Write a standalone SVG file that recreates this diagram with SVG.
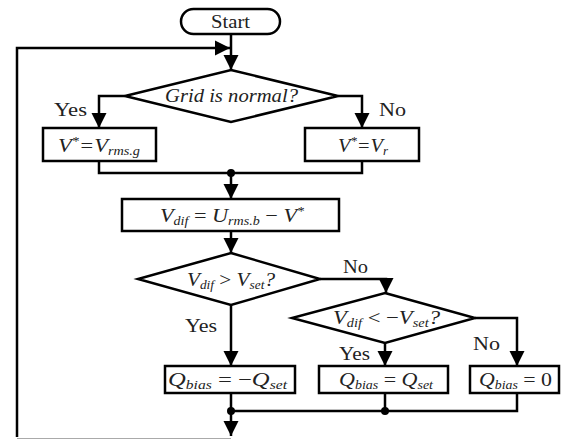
<svg xmlns="http://www.w3.org/2000/svg" width="568" height="439" viewBox="0 0 568 439">
<defs>
<marker id="arr" markerUnits="userSpaceOnUse" markerWidth="16" markerHeight="16" viewBox="0 0 16 16" refX="15" refY="8" orient="auto">
<path d="M0,0.5 L15,8 L0,15.5 z" fill="#000"/>
</marker>
<style>
.s{fill:#fff;stroke:#000;stroke-width:2.5}
.l{fill:none;stroke:#000;stroke-width:2.5}
text{font-family:'Liberation Serif','Times New Roman',serif;fill:#222}
.t{font-size:19px}
.i{font-style:italic}
.sub{font-size:12px;font-style:italic}
.lab{font-size:18px}
</style>
</defs>
<rect width="568" height="439" fill="#fff"/>
<g id="connectors">
<path class="l" d="M231,34 V70" marker-end="url(#arr)"/>
<path class="l" d="M17,437 V48 H230" marker-end="url(#arr)"/>
<path class="l" d="M125,96 H99 V128" marker-end="url(#arr)"/>
<path class="l" d="M338,96 H362 V128" marker-end="url(#arr)"/>
<path class="l" d="M99,161 V173 H362 V161"/>
<path class="l" d="M231,173 V199" marker-end="url(#arr)"/>
<path class="l" d="M231,231 V253" marker-end="url(#arr)"/>
<path class="l" d="M320,279 H386 V293" marker-end="url(#arr)"/>
<path class="l" d="M231,305 V366" marker-end="url(#arr)"/>
<path class="l" d="M385,343 V366" marker-end="url(#arr)"/>
<path class="l" d="M475,318 H517 V366" marker-end="url(#arr)"/>
<path class="l" d="M231,393 V411 H517 V393"/>
<path class="l" d="M385,393 V411"/>
<path class="l" d="M231,411 V436" marker-end="url(#arr)"/>
<line x1="17" y1="438.5" x2="231" y2="438.5" stroke="#aaa" stroke-width="1"/>
<circle cx="231" cy="173" r="4"/>
<circle cx="231" cy="411" r="4"/>
<circle cx="385" cy="411" r="4"/>
<text class="lab" x="54" y="116" textLength="33" lengthAdjust="spacingAndGlyphs">Yes</text>
<text class="lab" x="379" y="116" textLength="27" lengthAdjust="spacingAndGlyphs">No</text>
<text class="lab" x="343" y="273" textLength="25" lengthAdjust="spacingAndGlyphs">No</text>
<text class="lab" x="185" y="332" textLength="32" lengthAdjust="spacingAndGlyphs">Yes</text>
<text class="lab" x="339" y="360" textLength="31" lengthAdjust="spacingAndGlyphs">Yes</text>
<text class="lab" x="473" y="350" textLength="27" lengthAdjust="spacingAndGlyphs">No</text>
</g>
<g id="start">
<rect class="s" x="181" y="9" width="99" height="25" rx="12.5"/>
<text class="t" x="211" y="28" textLength="39" lengthAdjust="spacingAndGlyphs">Start</text>
</g>
<g id="grid-normal">
<polygon class="s" points="231,70 338,96 231,122 125,96"/>
<text class="t i" x="165" y="102" textLength="133" lengthAdjust="spacingAndGlyphs">Grid is normal?</text>
</g>
<g id="v-rms">
<rect class="s" x="43" y="128" width="113" height="33"/>
<text class="t i" x="58" y="152" textLength="82" lengthAdjust="spacingAndGlyphs"><tspan>V</tspan><tspan font-size="12" dy="-7">*</tspan><tspan dy="7">=V</tspan><tspan class="sub" dy="3">rms.g</tspan></text>
</g>
<g id="v-r">
<rect class="s" x="305" y="128" width="114" height="33"/>
<text class="t i" x="338" y="152" textLength="50" lengthAdjust="spacingAndGlyphs"><tspan>V</tspan><tspan font-size="12" dy="-7">*</tspan><tspan dy="7">=V</tspan><tspan class="sub" dy="3">r</tspan></text>
</g>
<g id="v-dif">
<rect class="s" x="122" y="199" width="217" height="32"/>
<text class="t i" x="160" y="222" textLength="144" lengthAdjust="spacingAndGlyphs"><tspan>V</tspan><tspan class="sub" dy="3">dif</tspan><tspan dy="-3" font-style="normal"> = </tspan><tspan>U</tspan><tspan class="sub" dy="3">rms.b</tspan><tspan dy="-3" font-style="normal"> − </tspan><tspan>V</tspan><tspan font-size="12" dy="-7">*</tspan></text>
</g>
<g id="cmp-pos">
<polygon class="s" points="231,253 320,279 231,305 138,279"/>
<text class="t i" x="187" y="286" textLength="88" lengthAdjust="spacingAndGlyphs"><tspan>V</tspan><tspan class="sub" dy="3">dif</tspan><tspan dy="-3" font-style="normal"> &gt; </tspan><tspan>V</tspan><tspan class="sub" dy="3">set</tspan><tspan dy="-3">?</tspan></text>
</g>
<g id="cmp-neg">
<polygon class="s" points="385,293 475,318 385,343 292,318"/>
<text class="t i" x="333" y="324" textLength="107" lengthAdjust="spacingAndGlyphs"><tspan>V</tspan><tspan class="sub" dy="3">dif</tspan><tspan dy="-3" font-style="normal"> &lt; −</tspan><tspan>V</tspan><tspan class="sub" dy="3">set</tspan><tspan dy="-3">?</tspan></text>
</g>
<g id="q-neg">
<rect class="s" x="165" y="366" width="130" height="27"/>
<text class="t i" x="168" y="386" textLength="119" lengthAdjust="spacingAndGlyphs"><tspan>Q</tspan><tspan class="sub" dy="3">bias</tspan><tspan dy="-3" font-style="normal"> = −</tspan><tspan>Q</tspan><tspan class="sub" dy="3">set</tspan></text>
</g>
<g id="q-pos">
<rect class="s" x="319" y="366" width="129" height="27"/>
<text class="t i" x="339" y="386" textLength="94" lengthAdjust="spacingAndGlyphs"><tspan>Q</tspan><tspan class="sub" dy="3">bias</tspan><tspan dy="-3" font-style="normal"> = </tspan><tspan>Q</tspan><tspan class="sub" dy="3">set</tspan></text>
</g>
<g id="q-zero">
<rect class="s" x="470" y="366" width="89" height="27"/>
<text class="t i" x="479" y="386" textLength="73" lengthAdjust="spacingAndGlyphs"><tspan>Q</tspan><tspan class="sub" dy="3">bias</tspan><tspan dy="-3" font-style="normal"> = 0</tspan></text>
</g>
</svg>
